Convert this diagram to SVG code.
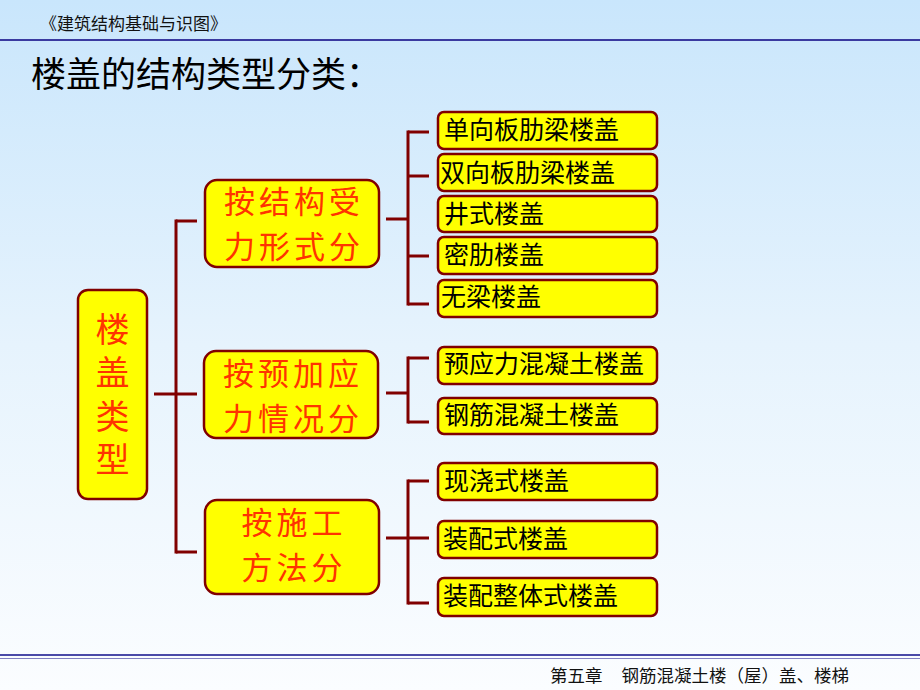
<svg xmlns="http://www.w3.org/2000/svg" width="920" height="690" viewBox="0 0 920 690">
<defs>
<linearGradient id="bg" x1="0" y1="0" x2="0" y2="1">
<stop offset="0" stop-color="#c9e6fc"/>
<stop offset="0.5" stop-color="#e6f3fd"/>
<stop offset="1" stop-color="#fbfdff"/>
</linearGradient>
<style>
.cjk{font-family:"Noto Sans CJK SC","Noto Sans CJK JP",sans-serif;}
.box{fill:#ffff00;stroke:#800000;stroke-width:2.5;}
.mid{fill:#ff3300;font-size:31px;letter-spacing:4px;text-anchor:middle;}
.leaf{fill:#000;font-size:25px;}
.conn line{stroke:#800000;stroke-width:3;fill:none;}
</style>
</defs>
<rect width="920" height="690" fill="url(#bg)"/>
<text class="cjk" x="40" y="30" font-size="17" fill="#111">《建筑结构基础与识图》</text>
<line x1="0" y1="40" x2="920" y2="40" stroke="#3a3aa0" stroke-width="2"/>
<text class="cjk" x="31" y="87" font-size="35" fill="#000">楼盖的结构类型分类：</text>

<g class="conn" id="connectors">
<line x1="154" y1="394" x2="176" y2="394"/>
<line x1="176" y1="219.5" x2="176" y2="553.5"/>
<line x1="176" y1="221" x2="197" y2="221"/>
<line x1="176" y1="394" x2="197" y2="394"/>
<line x1="176" y1="552" x2="197" y2="552"/>
<line x1="386" y1="219" x2="408" y2="219"/>
<line x1="408" y1="130.5" x2="408" y2="305.5"/>
<line x1="408" y1="132" x2="429" y2="132"/>
<line x1="408" y1="176" x2="429" y2="176"/>
<line x1="408" y1="256" x2="429" y2="256"/>
<line x1="408" y1="304" x2="429" y2="304"/>
<line x1="386" y1="393" x2="408" y2="393"/>
<line x1="408" y1="356.5" x2="408" y2="423.5"/>
<line x1="408" y1="358" x2="429" y2="358"/>
<line x1="408" y1="422" x2="429" y2="422"/>
<line x1="386" y1="538" x2="429" y2="538"/>
<line x1="408" y1="479.5" x2="408" y2="604.5"/>
<line x1="408" y1="481" x2="429" y2="481"/>
<line x1="408" y1="603" x2="429" y2="603"/>
</g>

<g id="root" class="cjk">
<rect class="box" x="78" y="290" width="69" height="209" rx="10"/>
<text x="112.5" y="312" writing-mode="vertical-rl" fill="#ff3300" font-size="34" letter-spacing="9.5">楼盖类型</text>
</g>

<g id="n-force" class="cjk">
<rect class="box" x="205" y="180" width="174" height="87" rx="12"/>
<text class="mid"><tspan x="294" y="213">按结构受</tspan><tspan x="294" y="258">力形式分</tspan></text>
</g>
<g id="n-prestress" class="cjk">
<rect class="box" x="204" y="351" width="174" height="87" rx="12"/>
<text class="mid"><tspan x="293" y="385">按预加应</tspan><tspan x="293" y="430">力情况分</tspan></text>
</g>
<g id="n-construct" class="cjk">
<rect class="box" x="205" y="500" width="174" height="94" rx="12"/>
<text class="mid"><tspan x="294" y="534">按施工</tspan><tspan x="294" y="579">方法分</tspan></text>
</g>

<g id="l1" class="cjk"><rect class="box" x="438" y="112" width="219" height="37" rx="6"/><text class="leaf" x="444" y="139">单向板肋梁楼盖</text></g>
<g id="l2" class="cjk"><rect class="box" x="438" y="154" width="219" height="37" rx="6"/><text class="leaf" x="440" y="182">双向板肋梁楼盖</text></g>
<g id="l3" class="cjk"><rect class="box" x="438" y="196" width="219" height="36" rx="6"/><text class="leaf" x="444" y="223">井式楼盖</text></g>
<g id="l4" class="cjk"><rect class="box" x="438" y="237" width="219" height="37" rx="6"/><text class="leaf" x="444" y="264">密肋楼盖</text></g>
<g id="l5" class="cjk"><rect class="box" x="438" y="280" width="219" height="37" rx="6"/><text class="leaf" x="441" y="306">无梁楼盖</text></g>
<g id="l6" class="cjk"><rect class="box" x="438" y="347" width="219" height="37" rx="6"/><text class="leaf" x="444" y="373">预应力混凝土楼盖</text></g>
<g id="l7" class="cjk"><rect class="box" x="438" y="398" width="219" height="36" rx="6"/><text class="leaf" x="444" y="424">钢筋混凝土楼盖</text></g>
<g id="l8" class="cjk"><rect class="box" x="438" y="463" width="219" height="37" rx="6"/><text class="leaf" x="444" y="490">现浇式楼盖</text></g>
<g id="l9" class="cjk"><rect class="box" x="438" y="521" width="219" height="37" rx="6"/><text class="leaf" x="443" y="548">装配式楼盖</text></g>
<g id="l10" class="cjk"><rect class="box" x="438" y="578" width="219" height="38" rx="6"/><text class="leaf" x="443" y="605">装配整体式楼盖</text></g>

<line x1="0" y1="655" x2="920" y2="655" stroke="#4a4aa8" stroke-width="2"/>
<line x1="0" y1="658.5" x2="920" y2="658.5" stroke="#8080c0" stroke-width="1"/>
<text class="cjk" x="550" y="682" font-size="17.5" fill="#111">第五章<tspan dx="19">钢筋混凝土楼（屋）盖、楼梯</tspan></text>
</svg>
